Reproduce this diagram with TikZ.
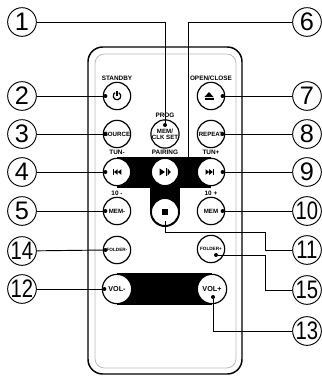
\documentclass[tikz,border=0pt]{standalone}
\usepackage{fontspec}
\setmainfont{Liberation Sans}
\usetikzlibrary{positioning}

\newcommand\squeeze[1]{\scalebox{0.8}[1]{#1}}

\begin{document}
\begin{tikzpicture}[
        x=0.75pt, y=-0.75pt,
        node distance=0.6pt,
        callout/.style={circle, draw, line width=0.7pt, minimum size=21.5pt, inner sep=0pt, font=\fontsize{19}{19}\selectfont},
        button/.style={circle, draw, fill=white, line width=0.9pt, minimum size=20.5pt, inner sep=0pt, align=center, font=\fontsize{4.6}{4.6}\bfseries\selectfont},
        bigbutton/.style={button, minimum size=22pt, font=\fontsize{5.4}{5.4}\bfseries\selectfont},
        caption/.style={font=\fontsize{4.8}{5}\bfseries\selectfont, inner sep=0.4pt},
        lead/.style={line width=0.7pt},
        pin/.style={fill, circle, inner sep=0pt, minimum size=3pt}
    ]
        \useasboundingbox (0,0) rectangle (322,376);

        % Remote body
        \draw[line width=1.1pt, rounded corners=11pt] (88,47) rectangle (242,374);
        \draw[gray!55, line width=0.6pt, rounded corners=7pt] (95,54) rectangle (236,368);

        % Black bands behind the transport and volume keys
        \fill (117,157) rectangle (211,188);
        \fill (150,157) rectangle (180,212);
        \fill (165,212) circle[radius=15];
        \fill (117,273) rectangle (212,305);

        % Keys
        \node[button] (standby) at (117,96) {};
        \node[button] (eject) at (211,96) {};
        \node[button] (source) at (117,134) {SOURCE};
        \node[button] (memclk) at (165,134) {MEM/\\CLK SET};
        \node[button] (repeat) at (211,134) {REPEAT};
        \node[button] (tunm) at (117,172) {};
        \node[button] (play) at (165,172) {};
        \node[button] (tunp) at (211,172) {};
        \node[button] (memm) at (117,211) {MEM-};
        \node[button] (stopb) at (165,212) {};
        \node[button] (memp) at (211,211) {MEM};
        \node[button, font=\fontsize{3.5}{3.6}\bfseries\selectfont] (foldm) at (117,250) {FOLDER-};
        \node[button, font=\fontsize{3.5}{3.6}\bfseries\selectfont] (foldp) at (211,249) {FOLDER+};
        \node[bigbutton] (volm) at (117,289) {VOL-};
        \node[bigbutton] (volp) at (212,289) {VOL+};

        % Key captions
        \node[caption, above=of standby] {STANDBY};
        \node[caption, above=of eject] {OPEN/CLOSE};
        \node[caption, above=of memclk] (prog) {PROG};
        \node[caption, above=2pt of tunm] {TUN-};
        \node[caption, above=2pt of play] {PAIRING};
        \node[caption, above=2pt of tunp] {TUN+};
        \node[caption, above=of memm] {10 -};
        \node[caption, above=of memp] {10 +};

        % Key symbols
        \begin{scope}[shift={(standby)}, line width=0.9pt]
            \draw (300:3.8) arc[start angle=300, end angle=600, radius=3.8];
            \draw (0,-0.5) -- (0,-5.5);
        \end{scope}
        \begin{scope}[shift={(eject)}]
            \fill (-6.5,1) -- (2.5,1) -- (-2,-4) -- cycle;
            \fill (-6.5,2.3) rectangle (2.5,3.8);
        \end{scope}
        \begin{scope}[shift={(tunm)}]
            \fill (-4,-2.8) rectangle (-3,2.8);
            \fill (-3,0) -- (0.7,-2.8) -- (0.7,2.8) -- cycle;
            \fill (0.7,0) -- (4.4,-2.8) -- (4.4,2.8) -- cycle;
        \end{scope}
        \begin{scope}[shift={(tunp)}]
            \fill (-5.5,-2.8) -- (-5.5,2.8) -- (-1.8,0) -- cycle;
            \fill (-1.8,-2.8) -- (-1.8,2.8) -- (1.9,0) -- cycle;
            \fill (1.9,-2.8) rectangle (2.9,2.8);
        \end{scope}
        \begin{scope}[shift={(play)}]
            \fill (-5.5,-3.6) -- (-5.5,3.6) -- (0,0) -- cycle;
            \fill (0.8,-3.6) rectangle (2,3.6);
            \fill (2.6,-3.6) -- (2.6,3.6) -- (5.8,0) -- cycle;
        \end{scope}
        \fill ([shift={(-2.6,-2.6)}]stopb) rectangle ([shift={(2.6,2.6)}]stopb);

        % Callouts
        \node[callout] (c1) at (22,22) {1};
        \node[callout] (c2) at (22,96) {2};
        \node[callout] (c3) at (22,134) {3};
        \node[callout] (c4) at (22,172) {4};
        \node[callout] (c5) at (22,211) {5};
        \node[callout] (c14) at (22,251) {\squeeze{14}};
        \node[callout] (c12) at (22,289) {\squeeze{12}};
        \node[callout] (c6) at (307,22) {6};
        \node[callout] (c7) at (307,96) {7};
        \node[callout] (c8) at (307,134) {8};
        \node[callout] (c9) at (307,172) {9};
        \node[callout] (c10) at (307,211) {\squeeze{10}};
        \node[callout] (c11) at (307,250) {\squeeze{11}};
        \node[callout] (c15) at (307,290) {\squeeze{15}};
        \node[callout] (c13) at (307,331) {\squeeze{13}};

        % Pins on the keys
        \node[pin] (p1) at (165,125) {};
        \node[pin] (p2) at ([xshift=2pt]standby.west) {};
        \node[pin] (p3) at ([xshift=2pt]source.west) {};
        \node[pin] (p4) at ([xshift=2pt]tunm.west) {};
        \node[pin] (p5) at ([xshift=2pt]memm.west) {};
        \node[pin] (p14) at ([xshift=2pt]foldm.west) {};
        \node[pin] (p12) at ([xshift=2pt]volm.west) {};
        \node[pin] (p7) at ([xshift=-2pt]eject.east) {};
        \node[pin] (p8) at ([xshift=-2pt]repeat.east) {};
        \node[pin] (p9) at ([xshift=-2pt]tunp.east) {};
        \node[pin] (p10) at ([xshift=-2pt]memp.east) {};
        \node[pin] (p15) at (216,255) {};
        \node[pin] (p13) at (213,297) {};
        \coordinate (p6) at (188,157);
        \coordinate (p11) at (165,221);

        % Leader lines
        \draw[lead] (c1) -| (p1);
        \draw[lead] (c6) -| (p6);
        \draw[lead] (c2) -- (p2);
        \draw[lead] (c3) -- (p3);
        \draw[lead] (c4) -- (p4);
        \draw[lead] (c5) -- (p5);
        \draw[lead] (c14) -- (p14);
        \draw[lead] (c12) -- (p12);
        \draw[lead] (c7) -- (p7);
        \draw[lead] (c8) -- (p8);
        \draw[lead] (c9) -- (p9);
        \draw[lead] (c10) -- (p10);
        \draw[lead] (p11) -- (165,232) -- (265,232) |- (c11);
        \draw[lead] (p15) -- (265,255) |- (c15);
        \draw[lead] (p13) |- (c13);
    \end{tikzpicture}
\end{document}
